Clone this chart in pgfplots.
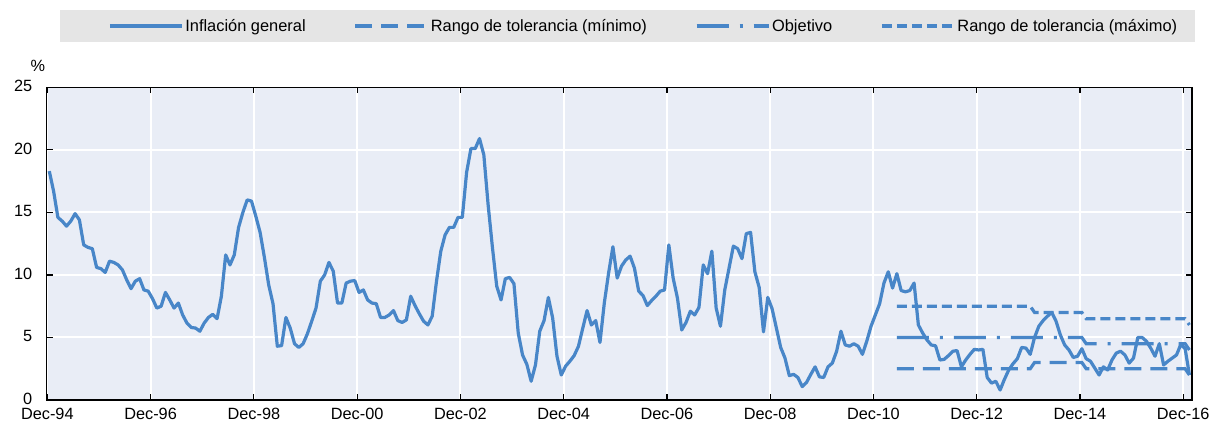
\documentclass[border=0pt]{standalone}
\usepackage{fontspec}
\setmainfont{Liberation Sans}
\usepackage{pgfplots}
\usepackage{pgfplotstable}
\pgfplotsset{compat=1.18}
\definecolor{lineblue}{RGB}{72,134,200}
\definecolor{bgblue}{RGB}{233,237,246}
\definecolor{leggray}{RGB}{229,229,229}

\pgfplotstableread{
v
18.3
16.7
14.6
14.3
13.9
14.3
14.9
14.4
12.4
12.2
12.1
10.6
10.5
10.2
11.1
11.0
10.8
10.4
9.6
8.9
9.5
9.7
8.8
8.7
8.1
7.35
7.5
8.6
8.0
7.35
7.75
6.8
6.15
5.8
5.75
5.5
6.15
6.6
6.85
6.5
8.3
11.6
10.8
11.6
13.8
15.0
16.0
15.9
14.7
13.4
11.4
9.2
7.7
4.3
4.35
6.6
5.75
4.5
4.2
4.5
5.3
6.3
7.35
9.5
10.0
11.0
10.3
7.75
7.75
9.35
9.5
9.55
8.6
8.8
8.0
7.75
7.7
6.6
6.6
6.8
7.15
6.35
6.2
6.4
8.3
7.55
6.9
6.3
6.0
6.7
9.5
11.9
13.2
13.8
13.8
14.6
14.6
18.2
20.1
20.1
20.9
19.6
15.6
12.2
9.1
8.0
9.7
9.8
9.3
5.35
3.6
2.85
1.5
2.8
5.5
6.35
8.2
6.55
3.5
2.0
2.7
3.1
3.55
4.3
5.75
7.15
6.0
6.35
4.6
7.75
10.15
12.25
9.75
10.7
11.2
11.5
10.55
8.7
8.35
7.55
7.95
8.3
8.7
8.8
12.4
9.75
8.15
5.6
6.2
7.1
6.8
7.4
10.8
10.1
11.9
7.35
5.9
8.8
10.55
12.3
12.1
11.3
13.3
13.4
10.25
9.0
5.45
8.2
7.3
5.75
4.2
3.35
1.95
2.05
1.8
1.07
1.4
2.05
2.65
1.85
1.8
2.65
2.95
3.9
5.5
4.4
4.3
4.5
4.3
3.65
4.7
5.9
6.8
7.7
9.35
10.25
8.95
10.1
8.75
8.65
8.75
9.35
6.0
5.35
4.8
4.4
4.33
3.2
3.25
3.55
3.9
3.95
2.65
3.2
3.65
4.05
4.0
4.05
1.8
1.35
1.5
0.8
1.65
2.4
2.9
3.3
4.2
4.15
3.65
5.0
5.9
6.35
6.7
7.0
6.3
5.2
4.4
4.0
3.4
3.5
4.1
3.3
3.1
2.55
2.0
2.65
2.4
3.2
3.75
3.9
3.6
2.95
3.35
5.0
5.0
4.7
4.15
3.5
4.5
2.8
3.1
3.35
3.6
4.45
4.1
2.0
}\infl

\pgfplotstableread{
k v
197 2.5
228 2.5
229 3.0
240 3.0
241 2.5
264 2.5
265 2.0
}\tolmin

\pgfplotstableread{
k v
197 5.0
240 5.0
241 4.5
264 4.5
265 4.0
}\objetivo

\pgfplotstableread{
k v
197 7.5
228 7.5
229 7.0
240 7.0
241 6.5
264 6.5
265 6.0
}\tolmax

\begin{document}
\begin{tikzpicture}
\useasboundingbox (0bp,0bp) rectangle (1212bp,-425bp);
\fill[leggray] (60bp,-10bp) rectangle (1195bp,-42bp);
\begin{axis}[
  at={(46.7bp,-87.3bp)}, anchor=north west,
  scale only axis, width=1145.3bp, height=312.7bp,
  xmin=-0.15, xmax=266.05, ymin=0, ymax=25,
  xtick={0,24,...,264},
  xticklabels={Dec-94,Dec-96,Dec-98,Dec-00,Dec-02,Dec-04,Dec-06,Dec-08,Dec-10,Dec-12,Dec-14,Dec-16},
  ytick={0,5,...,25},
  /pgf/number format/assume math mode=true,
  tick label style={font=\fontsize{16.3bp}{19bp}\selectfont},
  yticklabel style={xshift=-11bp, yshift=1bp},
  xticklabel style={yshift=-5bp},
  tick align=inside,
  major tick length=6bp,
  tick style={black, line width=1.2bp},
  axis line style={black, line width=1.3bp},
  grid=major,
  major grid style={white, line width=2bp},
  axis background/.style={fill=bgblue},
  ylabel={\%},
  every axis y label/.style={at={(axis description cs:-0.0076,1.068)}, anchor=center, font=\fontsize{16.3bp}{19bp}\selectfont},
  legend columns=4,
  legend style={at={(axis description cs:0.0535,1.196)}, anchor=west, draw=none, fill=none, inner sep=0pt,
    font=\fontsize{16.4bp}{19bp}\selectfont,
    /tikz/every even column/.append style={column sep=46bp}},
  legend image code/.code={\draw[#1] (0bp,0bp) -- (72bp,0bp);},
]
\addplot[lineblue, line width=3.2bp, line join=round] table[x expr=\coordindex+0.45, y=v] {\infl};
\addlegendentry{Inflación general}
\addplot[lineblue, line width=3.2bp, dash pattern=on 17bp off 9bp] table[x expr=\thisrow{k}+0.45, y=v] {\tolmin};
\addlegendentry{Rango de tolerancia (mínimo)}
\addplot[lineblue, line width=3.2bp, dash pattern=on 32bp off 11bp on 3bp off 11bp] table[x expr=\thisrow{k}+0.45, y=v] {\objetivo};
\addlegendentry{Objetivo}
\addplot[lineblue, line width=3.2bp, dash pattern=on 10bp off 5bp] table[x expr=\thisrow{k}+0.45, y=v] {\tolmax};
\addlegendentry{Rango de tolerancia (máximo)}
\end{axis}
\end{tikzpicture}
\end{document}
